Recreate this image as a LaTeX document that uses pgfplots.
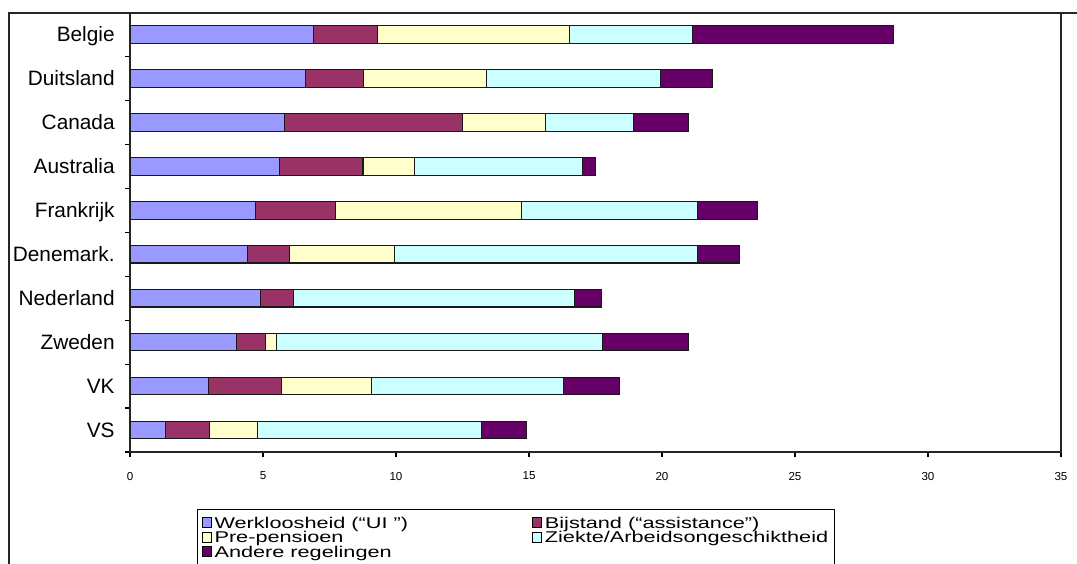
\documentclass[border=0pt]{standalone}
\usepackage{pgfplots}
\pgfplotsset{compat=1.18}
\usepackage{pgfplotstable}
\usepackage{graphicx}
\usepackage{fontspec}
\setmainfont{Liberation Sans}
\definecolor{c1}{HTML}{9999FF}
\definecolor{c2}{HTML}{993366}
\definecolor{c3}{HTML}{FFFFCC}
\definecolor{c4}{HTML}{CCFFFF}
\definecolor{c5}{HTML}{660066}
\newcommand{\lt}[1]{\scalebox{1.39}[1]{#1}}
\pgfplotstableread{
y w b p z a
1 6.89 2.42 7.21 4.63 7.55
2 6.59 2.18 4.63 6.56 1.94
3 5.80 6.69 3.14 3.31 2.05
4 5.61 3.15 1.94 6.30 0.51
5 4.72 3.02 6.98 6.62 2.24
6 4.42 1.57 3.97 11.38 1.58
7 4.91 1.22 0 10.57 1.04
8 4.01 1.09 0.41 12.27 3.22
9 2.94 2.77 3.36 7.22 2.11
10 1.32 1.68 1.80 8.41 1.70
}\datatable
\begin{document}
\begin{tikzpicture}
\useasboundingbox (0pt,0pt) rectangle (538.5pt,281.5pt);
\begin{pgfinterruptboundingbox}
\begin{axis}[
  at={(65pt,55.5pt)}, anchor=south west,
  scale only axis, width=465.5pt, height=219.75pt,
  xbar stacked, bar width=0.4,
  xmin=0, xmax=35, ymin=0.5, ymax=10.5,
  y dir=reverse,
  tick pos=left,
  xtick={0,5,...,35}, minor xtick={0,5,...,35},
  ytick={1,...,10}, minor ytick={0.5,1.5,...,10.5},
  yticklabels={Belgie,Duitsland,Canada,Australia,Frankrijk,Denemark.,Nederland,Zweden,VK,VS},
  major tick length=0pt, minor tick length=2.4pt, tick align=outside,
  tick style={black, line width=0.6pt},
  axis line style={line width=0.7pt, black!85},
  /pgf/number format/assume math mode=true,
  xticklabel style={font=\fontsize{5.8}{7}\selectfont, anchor=center, yshift=-12pt},
  yticklabel style={font=\fontsize{10.4}{12}\selectfont, anchor=east, inner sep=0pt, xshift=-7.5pt, text height=7.45pt, text depth=0pt},
  every axis plot/.append style={draw=black!90, line width=0.55pt},
  legend columns=2,
  legend cell align=left,
  legend image code/.code={\draw[#1,draw=black,line width=0.5pt] (0pt,-2.4pt) rectangle (4.6pt,2.4pt);},
  legend style={at={(axis description cs:0.072,-0.1297)}, anchor=north west,
    draw=black, line width=0.5pt, inner xsep=2pt, inner ysep=3pt,
    font=\fontsize{7.8}{7.25}\selectfont,
    nodes={inner xsep=1.4pt, inner ysep=0pt, text height=6.415pt, text depth=0.835pt},
    /tikz/column 2/.style={column sep=60.5pt}},
]
\addplot[fill=c1] table[x=w,y=y]{\datatable};
\addplot[fill=c2] table[x=b,y=y]{\datatable};
\addplot[fill=c3] table[x=p,y=y]{\datatable};
\addplot[fill=c4] table[x=z,y=y]{\datatable};
\addplot[fill=c5] table[x=a,y=y]{\datatable};
\legend{\lt{Werkloosheid (“UI\ ”)},\lt{Bijstand (“assistance”)},\lt{Pre-pensioen},\lt{Ziekte/Arbeidsongeschiktheid},\lt{Andere regelingen}}
\end{axis}
\draw[line width=0.6pt, black!85] (4.5pt,-10pt) -- (4.5pt,275pt) -- (550pt,275pt);
\end{pgfinterruptboundingbox}
\end{tikzpicture}
\end{document}
